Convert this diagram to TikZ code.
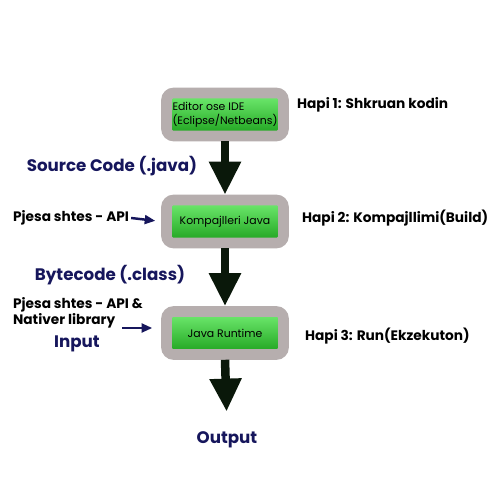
\documentclass[tikz,border=0pt]{standalone}
\usepackage{fontspec}
\setmainfont{Poppins}
\usetikzlibrary{arrows.meta,positioning,calc,shadows}

\definecolor{navy}{RGB}{22,22,92}
\definecolor{arrowdark}{RGB}{10,24,10}
\definecolor{frame}{RGB}{182,174,174}
\definecolor{gtop}{RGB}{115,238,115}
\definecolor{gbot}{RGB}{28,160,28}

\begin{document}
\begin{tikzpicture}[
    font=\scriptsize,
    stepbox/.style={draw=frame, line width=6pt, rounded corners=4pt, top color=gtop, bottom color=gbot,
      minimum width=2.34cm, minimum height=0.86cm, inner sep=1pt, align=left, font=\fontsize{6.2}{7.8}\selectfont,
      drop shadow={shadow xshift=1pt, shadow yshift=-1pt, opacity=0.4}},
    hapi/.style={anchor=west, inner sep=1pt, font=\fontsize{7.8}{9.2}\selectfont\bfseries},
    lbl/.style={text=navy, font=\fontsize{9.5}{11}\selectfont\bfseries},
    big/.style={arrowdark, line width=0.17cm, -{Triangle[width=0.6cm, length=0.66cm]}},
    sm/.style={navy, line width=1.4pt, -{Triangle[length=6pt, width=5pt]}},
  ]
    \useasboundingbox (0,0) rectangle (10,10);

    \node[stepbox] (ide) at (4.5,7.71) {Editor ose IDE\\(Eclipse/Netbeans)};
    \node[stepbox] (komp) at (4.5,5.57) {Kompajlleri Java};
    \node[stepbox] (rt) at (4.5,3.34) {Java Runtime};

    \node[hapi] (h1) at (5.9,7.9) {Hapi 1: Shkruan kodin};
    \node[hapi] (h2) at (6.0,5.64) {Hapi 2: Kompajllimi(Build)};
    \node[hapi] (h3) at (6.06,3.28) {Hapi 3: Run(Ekzekuton)};

    \node[lbl] (src) at (2.24,6.68) {Source Code (.java)};
    \node[lbl] (bc) at (2.2,4.5) {Bytecode (.class)};
    \node[lbl] (inp) at (1.54,3.12) {Input};
    \node[lbl] (out) at (4.54,1.2) {Output};

    \node[hapi] (api) at (0.22,5.64) {Pjesa shtes - API};
    \node[hapi, align=left] (nat) at (0.22,3.75) {Pjesa shtes - API \&\\Nativer library};
    \coordinate (natS) at (2.44,3.44);

    % big flow arrows
    \draw[big] (ide.south) -- (komp.north);
    \draw[big] (komp.south) -- (rt.north);
    \draw[big, shorten >=0.28cm] (rt.south) -- (out.north);

    % extra inputs
    \draw[sm, shorten >=0.12cm] (api.east) -- (komp.west);
    \draw[sm, shorten >=0.18cm] (natS) -- (natS -| rt.west);
\end{tikzpicture}
\end{document}
